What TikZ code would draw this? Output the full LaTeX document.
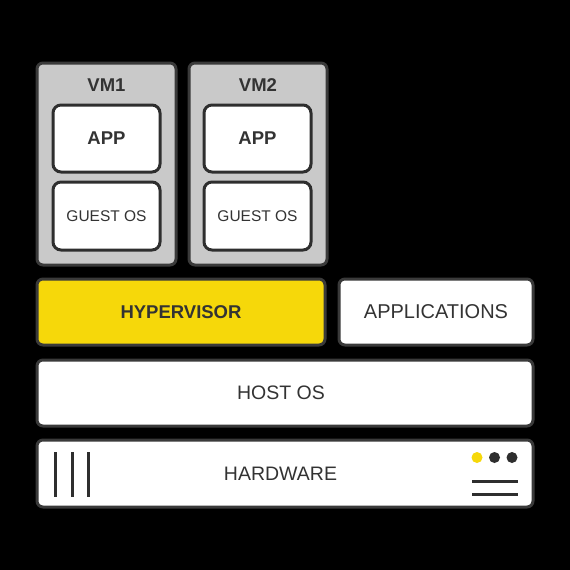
\documentclass[tikz,border=0pt]{standalone}
\usepackage{fontspec}
\setmainfont{Liberation Sans}
\definecolor{bordc}{HTML}{3A3A3A}
\definecolor{txtc}{HTML}{333333}
\definecolor{vmgray}{HTML}{C9C9C9}
\definecolor{hyper}{HTML}{F6D80A}
\definecolor{dotc}{HTML}{2E2E2E}
\tikzset{
  base/.style={draw=bordc, line width=3pt, rounded corners=6pt, inner sep=0pt, text=txtc},
  whitebox/.style={base, fill=white},
  vmbox/.style={base, fill=vmgray},
  hyperbox/.style={base, fill=hyper},
  innerbox/.style={base, draw=dotc, fill=white, rounded corners=8pt},
  lbl/.style={text=txtc, inner sep=0pt},
  bar/.style={draw=dotc, line width=3pt},
}
\begin{document}
\begin{tikzpicture}[x=1pt,y=-1pt]
\fill[black] (0,0) rectangle (570,570);
\useasboundingbox (0,0) rectangle (570,570);
% VM containers
\node[vmbox, minimum width=139pt, minimum height=202pt] (vm1) at (106.5,164) {};
\node[vmbox, minimum width=138pt, minimum height=202pt] (vm2) at (258,164) {};
\node[lbl, font=\bfseries\fontsize{18.5}{20}\selectfont] (vm1l) at (106.5,85) {VM1};
\node[lbl, font=\bfseries\fontsize{18.5}{20}\selectfont] (vm2l) at (258,85) {VM2};
% inner boxes
\node[innerbox, minimum width=107pt, minimum height=67pt, font=\bfseries\fontsize{18.5}{20}\selectfont] (app1) at (106.5,138.5) {APP};
\node[innerbox, minimum width=107pt, minimum height=68pt, font=\fontsize{15.5}{17}\selectfont] (gos1) at (106.5,216) {GUEST OS};
\node[innerbox, minimum width=107pt, minimum height=67pt, font=\bfseries\fontsize{18.5}{20}\selectfont] (app2) at (257.5,138.5) {APP};
\node[innerbox, minimum width=107pt, minimum height=68pt, font=\fontsize{15.5}{17}\selectfont] (gos2) at (257.5,216) {GUEST OS};
% layers
\node[hyperbox, minimum width=288pt, minimum height=66pt, font=\bfseries\fontsize{18.5}{20}\selectfont] (hyp) at (181,312) {HYPERVISOR};
\node[whitebox, minimum width=194pt, minimum height=66pt, font=\fontsize{20}{22}\selectfont] (apps) at (436,312) {APPLICATIONS};
\node[whitebox, minimum width=496pt, minimum height=66pt] (host) at (285,393) {};
\node[lbl, font=\fontsize{19.5}{21}\selectfont] (hostl) at (281,393) {HOST OS};
\node[whitebox, minimum width=496pt, minimum height=67pt] (hw) at (285,473.5) {};
\node[lbl, font=\fontsize{19.5}{21}\selectfont] (hwl) at (280.5,473.5) {HARDWARE};
% hardware decorations
\coordinate (v1a) at (55,452); \coordinate (v1b) at (55,497);
\coordinate (v2a) at (72,452); \coordinate (v2b) at (72,497);
\coordinate (v3a) at (88,452); \coordinate (v3b) at (88,497);
\draw[bar] (v1a) -- (v1b);
\draw[bar] (v2a) -- (v2b);
\draw[bar] (v3a) -- (v3b);
\fill[hyper] (477,457.5) circle (5.5pt);
\fill[dotc] (494.5,457.5) circle (5.5pt);
\fill[dotc] (512,457.5) circle (5.5pt);
\coordinate (h1a) at (472,481); \coordinate (h1b) at (518,481);
\coordinate (h2a) at (472,494); \coordinate (h2b) at (518,494);
\draw[bar] (h1a) -- (h1b);
\draw[bar] (h2a) -- (h2b);
\end{tikzpicture}
\end{document}
